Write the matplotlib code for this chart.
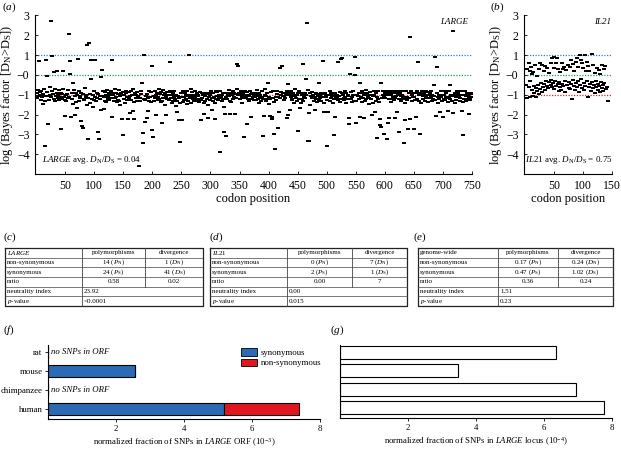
import matplotlib
matplotlib.use('Agg')
import matplotlib.pyplot as plt
from matplotlib.patches import Patch
import numpy as np

plt.rcParams['font.family'] = ['Liberation Serif', 'DejaVu Serif']
plt.rcParams['mathtext.fontset'] = 'custom'
plt.rcParams['mathtext.rm'] = 'Liberation Serif'
plt.rcParams['mathtext.it'] = 'Liberation Serif:italic'
plt.rcParams['axes.linewidth'] = 0.8

# ---- (a) LARGE: log Bayes factor per codon (band values, then outliers on top)
large_band = np.array([
    -0.92,-1.18,-0.76,-1.05,-1.37,-0.88,-1.02,-1.26,-0.81,-1.14,-1.48,-0.95,-1.09,-0.69,-1.31,-0.99,-1.21,-0.84,-1.42,-1.07,-0.91,-1.29,-1.01,-0.63,-1.16,
    -1.11,-0.79,-1.39,-0.97,-1.23,-0.86,-1.33,-0.72,-1.08,-1.52,-0.93,-1.19,-1.03,-0.78,-1.28,-1.12,-1.58,-0.89,-1.24,-0.98,-0.71,-1.36,-1.13,-0.87,-1.27,
    -1.04,-1.32,-0.94,-1.17,-0.74,-1.10,-1.41,-0.83,-0.99,-1.29,-1.22,-0.90,-1.47,-1.00,-0.77,-1.20,-1.06,-1.38,-0.92,-1.66,-1.02,-1.15,-0.82,-1.30,-1.09,
    -1.19,-0.91,-1.07,-1.43,-0.96,-0.80,-1.27,-1.21,-0.68,-1.12,-1.01,-1.50,-0.88,-1.18,-1.34,-0.81,-0.97,-1.40,-1.10,-0.86,-1.23,-1.61,-1.03,-0.79,-1.26,
    -0.83,-1.13,-1.30,-0.90,-1.16,-0.98,-1.44,-0.73,-1.08,-1.24,-0.94,-1.28,-1.05,-1.49,-0.80,-1.11,-1.20,-0.87,-1.33,-1.00,-1.39,-0.78,-1.14,-1.22,-0.92,
    -1.28,-1.03,-0.82,-1.17,-1.09,-1.41,-0.89,-1.01,-1.32,-0.70,-1.19,-1.12,-0.93,-1.37,-0.98,-1.25,-0.77,-1.31,-1.06,-1.53,-0.90,-1.04,-1.21,-0.84,-1.36,
    -1.00,-1.22,-1.40,-0.93,-0.79,-1.13,-1.29,-1.04,-1.18,-0.88,-1.57,-1.07,-0.81,-1.27,-0.99,-1.20,-0.72,-1.10,-1.38,-0.91,-1.16,-1.02,-1.34,-0.85,-1.12,
    -1.08,-0.92,-1.31,-1.17,-0.97,-0.83,-1.42,-1.11,-0.89,-1.23,-1.01,-1.28,-0.71,-1.09,-1.46,-0.94,-1.19,-1.03,-0.80,-1.33,-1.14,-1.39,-0.87,-1.21,-0.99,
    -0.90,-1.30,-1.08,-0.82,-1.16,-1.43,-1.02,-0.93,-1.27,-1.12,-0.69,-1.21,-0.98,-1.36,-0.88,-1.06,-1.32,-0.78,-1.18,-1.00,-1.51,-0.91,-1.10,-1.28,-0.84,
    -1.22,-0.99,-0.87,-1.29,-1.07,-0.81,-1.19,-1.40,-1.03,-0.92,-1.33,-1.13,-0.79,-1.24,-1.01,-1.59,-0.90,-1.30,-1.09,-0.73,-1.17,-0.97,-1.42,-0.89,-1.11,
    -1.02,-1.38,-0.80,-1.12,-1.27,-0.91,-1.20,-1.00,-1.49,-0.83,-1.08,-1.31,-0.94,-1.18,-1.04,-0.70,-1.41,-1.10,-0.88,-1.22,-1.34,-0.99,-0.81,-1.14,-1.23,
    -1.30,-0.90,-1.09,-1.01,-1.21,-1.39,-0.84,-1.28,-1.13,-0.92,-1.17,-1.03,-1.44,-0.74,-1.07,-1.32,-0.89,-0.98,-1.24,-0.82,-1.52,-1.10,-0.93,-1.27,-1.00,
    -0.81,-1.19,-1.02,-1.33,-0.90,-1.12,-1.40,-0.97,-0.79,-1.23,-1.08,-0.88,-1.29,-1.04,-1.18,-1.43,-0.83,-1.11,-0.99,-1.30,-0.92,-1.20,-1.62,-1.01,-1.14,
    -1.10,-1.31,-0.91,-1.21,-1.00,-0.78,-1.09,-1.34,-1.19,-0.93,-1.39,-1.03,-0.82,-1.23,-1.12,-0.89,-1.28,-0.98,-1.17,-0.71,-1.13,-1.44,-1.02,-0.90,-1.22,
    -1.20,-0.83,-1.01,-1.41,-1.10,-0.92,-1.30,-1.18,-0.99,-0.80,-1.12,-1.50,-0.88,-1.24,-1.03,-1.33,-1.08,-0.79,-1.38,-0.97,-1.21,-0.91,-1.13,-1.29,-1.02,
    -0.93,-1.11,-1.29,-0.99,-0.78,-1.22,-1.08,-1.42,-0.90,-1.01,-1.19,-1.32,-0.82,-1.13,-0.89,-1.24,-1.40,-1.00,-0.72,-1.31,-1.09,-0.92,-1.20,-1.04,-1.48,
    -1.12,-1.00,-1.23,-0.88,-1.34,-1.07,-0.81,-1.19,-1.03,-1.37,-0.91,-1.13,-1.28,-0.98,-0.80,-1.21,-1.10,-0.93,-1.30,-1.17,-1.01,-0.84,-1.42,-1.09,-0.90,
    -1.27,-1.08,-0.92,-1.18,-1.00,-1.33,-0.79,-1.12,-1.39,-0.89,-1.22,-1.02,-1.11,-0.83,-1.29,-1.20,-0.90,-0.99,-1.41,-1.07,-0.70,-1.19,-1.03,-1.31,-0.92,
    -1.01,-0.82,-1.21,-1.09,-1.40,-0.91,-1.02,-1.23,-1.30,-0.81,-1.13,-0.90,-1.18,-1.37,-0.99,-1.10,-0.78,-1.28,-1.04,-1.20,-0.93,-1.51,-1.08,-0.84,-1.17,
    -1.18,-1.01,-1.32,-0.79,-1.11,-1.22,-0.92,-1.38,-0.98,-1.07,-1.29,-0.83,-1.02,-1.19,-0.90,-1.34,-1.12,-0.97,-0.81,-1.23,-1.43,-0.89,-1.10,-1.00,-1.28,
    -0.89,-1.20,-1.10,-1.01,-1.31,-0.80,-1.18,-0.93,-1.09,-1.40,-0.99,-0.82,-1.22,-1.30,-0.91,-1.12,-1.03,-1.19,-0.72,-1.28,-1.07,-0.88,-1.39,-1.00,-1.21,
    -1.09,-0.90,-1.03,-1.29,-1.17,-0.81,-1.11,-1.42,-0.92,-1.20,-1.01,-1.08,-1.32,-0.79,-0.98,-1.23,-0.88,-1.37,-1.12,-1.00,-0.83,-1.30,-1.19,-0.91,-1.10,
    -1.31,-1.02,-0.80,-1.09,-0.91,-1.22,-1.28,-0.99,-1.13,-0.82,-1.38,-0.90,-1.19,-1.03,-1.10,-1.33,-0.78,-1.21,-1.00,-0.93,-1.12,-1.18,-1.49,-0.84,-1.02,
    -0.99,-1.21,-0.92,-1.41,-1.08,-1.02,-0.80,-1.19,-1.30,-0.89,-1.12,-1.01,-0.83,-1.23,-1.38,-0.98,-1.10,-0.91,-1.29,-1.17,-0.79,-1.03,-1.11,-1.32,-0.90,
    -1.19,-0.81,-1.10,-0.99,-1.31,-0.92,-1.20,-1.08,-0.82,-1.39,-1.02,-1.22,-0.89,-1.12,-1.28,-0.80,-1.00,-1.18,-1.09,-0.90,-1.33,-1.01,-0.79,-1.21,-1.11,
    -0.91,-1.09,-1.30,-0.82,-1.01,-1.20,-1.12,-0.90,-1.40,-0.99,-1.23,-0.81,-1.10,-1.29,-1.03,-0.92,-1.19,-1.08,-1.38,-0.80,-1.00,-1.31,-0.89,-1.13,-1.22,
    -1.10,-1.29,-1.01,-0.90,-1.21,-0.79,-1.12,-0.99,-1.32,-1.18,-0.92,-1.41,-1.02,-0.81,-1.09,-1.22,-1.00,-0.91,-1.30,-1.11,-0.82,-1.19,-1.03,-1.39,-0.88,
    -1.02,-0.91,-1.19,-1.10,-0.80,-1.30,-0.99,-1.21,-0.92,-1.09,-1.01,-1.29,-1.18,-0.81,-0.90,-1.12,-1.42,-1.00,-1.22,-0.89,-1.11,-0.79,-1.31,-1.03,-1.20,
    -1.21,-0.99,-0.82,-1.28,-1.10,-0.90,-1.19,-1.38,-1.02,-0.80,-1.12,-1.20,-0.91,-1.01,-1.32,-1.09,-0.81,-1.22,-0.99,-1.40,-0.92,-1.10,-1.29,-1.00,-0.83,
    -0.90,-1.12,-1.01,-1.19,-1.30,-0.81,-0.99,-1.11,-0.92,-1.39,-1.21,-1.02,-0.80,-1.09,-1.31,-0.91,-1.20,-1.00,-1.10,-0.82,-1.29,-1.18,-0.89,-1.12,-0.98,
])
large_outliers = {
    5: 0.72, 16: -3.58, 17: 0.73, 19: -0.05, 21: -2.5, 25: 2.7, 28: 0.97, 31: 0.15, 35: 0.22,
    42: -2.75, 47: 0.18, 49: -2.05, 57: 2.05, 58: 0.68, 59: 0.03, 60: -2.1, 64: -0.42, 66: -2.03,
    72: 0.78, 78: -2.33, 79: -2.57, 81: -2.67, 88: 1.52, 90: -3.22, 91: 1.63, 94: 0.75, 95: -0.23,
    101: 0.75, 107: -2.87, 108: -3.23, 111: -1.75, 112: -0.1, 114: 0.25, 117: -1.7, 130: 0.73,
    131: -2.15, 148: -2.25, 150: -3.02, 158: -2.25, 161: -1.9, 166: -1.8, 168: -2.25, 177: -4.58,
    182: -0.4, 183: -3.45, 184: -2.95, 186: 1.0, 188: -2.4, 190: -2.2, 193: -1.8, 199: 0.45,
    200: -2.78, 201: -3.13, 206: -2.0, 216: -2.45, 224: -2.0, 230: 0.63, 242: -1.87, 245: -2.3,
    247: -3.37, 251: -2.3, 263: 1.0, 284: -2.28, 289: -1.95, 295: -2.2, 303: -1.75, 308: -2.25,
    316: -3.87, 324: -2.88, 325: -1.95, 327: -3.07, 334: -1.95, 342: -1.95, 346: 0.53, 347: 0.45,
    357: -3.12, 362: -2.5, 369: -2.15, 390: -3.08, 392: -2.08, 399: -0.4, 402: -2.05, 405: -2.12,
    406: -2.25, 409: -2.97, 411: -3.75, 416: -2.67, 418: -1.85, 419: 0.33, 423: 0.45, 431: -2.2,
    433: -2.0, 434: -0.45, 436: -1.75, 451: -2.82, 454: -1.65, 460: 0.55, 464: -0.2, 466: 2.63,
    468: -3.35, 469: -3.35, 470: -1.9, 479: -1.75, 487: -0.4, 494: 0.72, 495: -1.88, 501: -3.58,
    502: -1.88, 503: -1.88, 512: -3.03, 514: -2.15, 519: 0.63, 524: 0.78, 526: 0.87, 538: -2.2,
    539: -2.5, 540: 0.05, 548: 0.92, 549: -0.02, 550: -2.45, 553: 0.37, 557: -2.1, 558: -0.4,
    565: -2.2, 578: -2.0, 583: -1.85, 587: -3.17, 591: -2.25, 592: -2.55, 593: -2.65, 594: -0.4,
    599: -3.0, 603: -3.22, 605: -2.45, 608: -2.2, 617: -2.2, 621: -1.85, 625: -2.88, 633: -3.45,
    635: -2.3, 640: -2.75, 643: 1.92, 644: -2.25, 650: -2.72, 653: -2.15, 657: 0.63, 660: -2.97,
    684: -0.5, 686: 0.88, 688: -2.05, 689: 0.42, 695: -1.85, 700: -2.15, 709: -1.8, 713: -0.5,
    717: -1.9, 718: 2.2, 733: -1.8, 734: -3.05, 745: -1.95,
}

# ---- (b) IL21
il21_codon = [3, 6, 8, 10, 12, 14, 17, 21, 24, 25, 29, 32, 35, 38, 41, 44, 46, 49, 50, 53, 55, 57,
              60, 63, 65, 67, 71, 74, 77, 80, 83, 85, 88, 90, 92, 94, 97, 99, 100, 103, 105, 107,
              109, 111, 115, 118, 121, 124, 127, 130, 132, 136, 138,
              2, 4, 6, 8, 9, 11, 13, 15, 16, 18, 19, 21, 23, 24, 26, 27, 29, 31, 33, 34, 36, 38,
              40, 42, 44, 45, 47, 48, 50, 52, 54, 56, 58, 59, 61, 62, 64, 66, 68, 69, 72, 81, 75,
              76, 78, 79, 82, 84, 86, 87, 89, 91, 93, 95, 96, 98, 101, 102, 104, 106, 108, 110,
              112, 113, 116, 117, 119, 120, 122, 123, 125, 126, 128, 129, 131, 133, 134, 135, 137,
              139, 141, 143]
il21_value = [0.3, 0.58, 0.2, 0.4, 0.05, 0.15, 0.5, -0.05, 0.3, 0.58, 0.5, 0.2, 0.45, 0.33, 0.1,
              0.6, 0.83, 0.35, 0.88, 0.58, 0.85, 0.28, 0.15, 0.6, 0.3, 0.4, 0.25, 0.5, 0.4, 0.75,
              0.53, 0.2, 0.67, 0.83, 0.4, 1.0, 0.75, 0.58, 0.37, 1.0, 0.2, 0.65, 0.45, 0.2, 1.07,
              0.48, 0.1, 0.37, 0.25, 0.05, 0.48, 0.32, 0.45,
              -0.5, -1.17, -0.6, -1.12, -0.3, -0.75, -1.05, -0.55, -0.9, -1.1, -0.65, -0.8, -0.5,
              -0.95, -0.7, -0.4, -0.85, -0.6, -0.45, -0.75, -0.3, -0.55, -0.65, -0.35, -0.5, -0.25,
              -0.6, -0.4, -0.7, -0.3, -0.55, -0.45, -0.8, -0.35, -0.6, -0.75, -0.45, -0.55, -0.3,
              -0.85, -0.5, -1.22, -0.65, -0.35, -0.7, -0.45, -0.25, -0.55, -0.75, -0.4, -0.6, -0.3,
              -0.85, -0.5, -0.2, -0.65, -0.4, -0.75, -0.55, -0.3, -1.12, -0.6, -0.45, -0.8, -0.35,
              -0.65, -0.5, -0.9, -0.3, -0.6, -0.75, -0.45, -0.55, -0.85, -0.35, -0.65, -0.5, -0.8,
              -0.4, -0.7, -0.6, -1.33]

ytick_vals = [3, 2, 1, 0, -1, -2, -3, -4]
ytick_labels = ['3', '2', '1', '\u22120', '\u22121', '\u22122', '\u22123', '\u22124']
guide_levels = [1, 0, -1]
guide_colors = ['#2f7fc8', '#1f9f55', '#d42a2a']

# ---- tables (c), (d), (e)
table_c = [[r'$\it{LARGE}$', 'polymorphisms', 'divergence'],
           ['non-synonymous', r'14 ($P_{\rm N}$)', r'1 ($D_{\rm N}$)'],
           ['synonymous', r'24 ($P_{\rm S}$)', r'41 ($D_{\rm S}$)'],
           ['ratio', '0.58', '0.02'],
           ['neutrality index', '23.92'],
           [r'$p$-value', '<0.0001']]
table_d = [[r'$\it{IL21}$', 'polymorphisms', 'divergence'],
           ['non-synonymous', r'0 ($P_{\rm N}$)', r'7 ($D_{\rm N}$)'],
           ['synonymous', r'2 ($P_{\rm S}$)', r'1 ($D_{\rm S}$)'],
           ['ratio', '0.00', '7'],
           ['neutrality index', '0.00'],
           [r'$p$-value', '0.015']]
table_e = [['genome-wide', 'polymorphisms', 'divergence'],
           ['non-synonymous', r'0.17 ($P_{\rm N}$)', r'0.24 ($D_{\rm N}$)'],
           ['synonymous', r'0.47 ($P_{\rm S}$)', r'1.02 ($D_{\rm S}$)'],
           ['ratio', '0.36', '0.24'],
           ['neutrality index', '1.51'],
           [r'$p$-value', '0.23']]

# ---- (f), (g)
species = ['human', 'chimpanzee', 'mouse', 'rat']
orf_syn = [5.17, 0.0, 2.57, 0.0]
orf_nonsyn = [2.22, 0.0, 0.0, 0.0]
locus_frac = [7.76, 6.93, 3.48, 6.35]
blue = '#2b6bb5'
red = '#e2161f'

W, H = 621, 449
fig = plt.figure(figsize=(W / 100, H / 100), dpi=100)


def px_axes(x0, y0, x1, y1):
    return fig.add_axes([x0 / W, 1 - y1 / H, (x1 - x0) / W, (y1 - y0) / H])


rect = [(-1, -0.55), (1, -0.55), (1, 0.55), (-1, 0.55)]


def score_panel(ax, x, y, xmax, xticks, gene, avg):
    for lev, col in zip(guide_levels, guide_colors):
        ax.axhline(lev, color=col, ls=(0, (1, 1.2)), lw=0.9, zorder=1)
    ax.plot(x, y, ls='none', marker=rect, ms=3.0, color='black', mew=0, zorder=2)
    ax.set_xlim(-2, xmax)
    ax.set_ylim(-5, 3.02)
    ax.set_yticks(ytick_vals)
    ax.set_yticklabels(ytick_labels)
    ax.set_xticks(xticks)
    ax.tick_params(direction='in', length=2, width=0.6, labelsize=8.5, pad=4)
    for s in ['top', 'right']:
        ax.spines[s].set_visible(False)
    ax.set_xlabel('codon position', fontsize=9, labelpad=1)
    ax.set_ylabel(r'log (Bayes factor [D$_{\rm N}$>D$_{\rm S}$])', fontsize=9, labelpad=1)
    ax.text(0.99, 0.955, gene, transform=ax.transAxes, ha='right', va='center',
            fontsize=6.5, style='italic')
    ax.text(0.015, 0.09, r'$\it{%s}$ avg. $D_{\rm N}/D_{\rm S}$ = %s' % (gene, avg),
            transform=ax.transAxes, ha='left', va='center', fontsize=6.5)


large_y = large_band.copy()
for c, v in large_outliers.items():
    large_y[c - 1] = v
codons = np.arange(1, len(large_y) + 1)

ax_a = px_axes(35, 15, 472, 174)
score_panel(ax_a, codons, large_y, 750, range(50, 751, 50), 'LARGE', '0.04')
ax_b = px_axes(524, 15, 612, 174)
score_panel(ax_b, il21_codon, il21_value, 150, [50, 100, 150], 'IL21', '0.75')

# overlay in pixel coordinates for tables and panel letters
ov = fig.add_axes([0, 0, 1, 1])
ov.set_xlim(0, W)
ov.set_ylim(H, 0)
ov.axis('off')

tfs = 5.0


def draw_table(rows, x0, x1, c1, c2, y0=248, rh=9.67):
    y1 = y0 + rh * len(rows)
    ov.plot([x0, x1, x1, x0, x0], [y0, y0, y1, y1, y0], color='#222', lw=0.9)
    for i in range(1, len(rows)):
        ov.plot([x0, x1], [y0 + i * rh] * 2, color='#444', lw=0.5)
    ov.plot([c1, c1], [y0, y1], color='#444', lw=0.6)
    ov.plot([c2, c2], [y0, y0 + 4 * rh], color='#444', lw=0.6)
    for i, row in enumerate(rows):
        yc = y0 + (i + 0.5) * rh
        ov.text(x0 + 2, yc, row[0], ha='left', va='center', fontsize=tfs)
        if len(row) == 3:
            ov.text((c1 + c2) / 2, yc, row[1], ha='center', va='center', fontsize=tfs)
            ov.text((c2 + x1) / 2, yc, row[2], ha='center', va='center', fontsize=tfs)
        else:
            ov.text(c1 + 2, yc, row[1], ha='left', va='center', fontsize=tfs)


draw_table(table_c, 5, 203, 82, 145)
draw_table(table_d, 210, 407, 287, 352)
draw_table(table_e, 418, 613, 498, 558)

for lab, x, y in [('a', 2, 7), ('b', 490, 7), ('c', 3, 237), ('d', 209, 237),
                  ('e', 413, 237), ('f', 3, 330), ('g', 330, 330)]:
    ov.text(x, y, r'($\it{%s}$)' % lab, ha='left', va='center', fontsize=8)

# ---- (f)
ypos = np.arange(len(species))
ax_f = px_axes(48, 345, 320, 419)
ax_f.barh(ypos, orf_syn, height=0.62, color=blue, edgecolor='black', lw=0.8)
ax_f.barh(ypos, orf_nonsyn, left=orf_syn, height=0.62, color=red, edgecolor='black', lw=0.8)
for i, s in enumerate(species):
    if orf_syn[i] + orf_nonsyn[i] == 0:
        ax_f.text(0.1, i, 'no SNPs in ORF', ha='left', va='center', fontsize=6.3, style='italic')
ax_f.set_xlim(0, 8)
ax_f.set_ylim(-0.55, 3.4)
ax_f.set_yticks(ypos)
ax_f.set_yticklabels(species)
ax_f.set_xticks([2, 4, 6, 8])
ax_f.tick_params(length=2, width=0.6, labelsize=6.3, pad=2)
for s in ['top', 'right']:
    ax_f.spines[s].set_visible(False)
ax_f.set_xlabel(r'normalized fraction of SNPs in $\it{LARGE}$ ORF (10$^{-3}$)', fontsize=6.3, labelpad=3)
ax_f.legend(handles=[Patch(facecolor=blue, edgecolor='black', lw=0.6, label='synonymous'),
                     Patch(facecolor=red, edgecolor='black', lw=0.6, label='non-synonymous')],
            loc='upper right', bbox_to_anchor=(1.035, 1.06), frameon=False, fontsize=6.3,
            handlelength=1.8, handleheight=0.9, handletextpad=0.5, labelspacing=0.2)

# ---- (g)
ax_g = px_axes(340, 345, 612, 418)
ax_g.barh(ypos, locus_frac, height=0.7, color='white', edgecolor='black', lw=0.8)
ax_g.set_xlim(0, 8)
ax_g.set_ylim(-0.55, 3.4)
ax_g.set_yticks([])
ax_g.set_xticks([2, 4, 6, 8])
ax_g.tick_params(length=2, width=0.6, labelsize=6.3, pad=2)
for s in ['top', 'right']:
    ax_g.spines[s].set_visible(False)
ax_g.set_xlabel(r'normalized fraction of SNPs in $\it{LARGE}$ locus (10$^{-4}$)', fontsize=6.3, labelpad=3)

fig.savefig('out.png', dpi=100)
